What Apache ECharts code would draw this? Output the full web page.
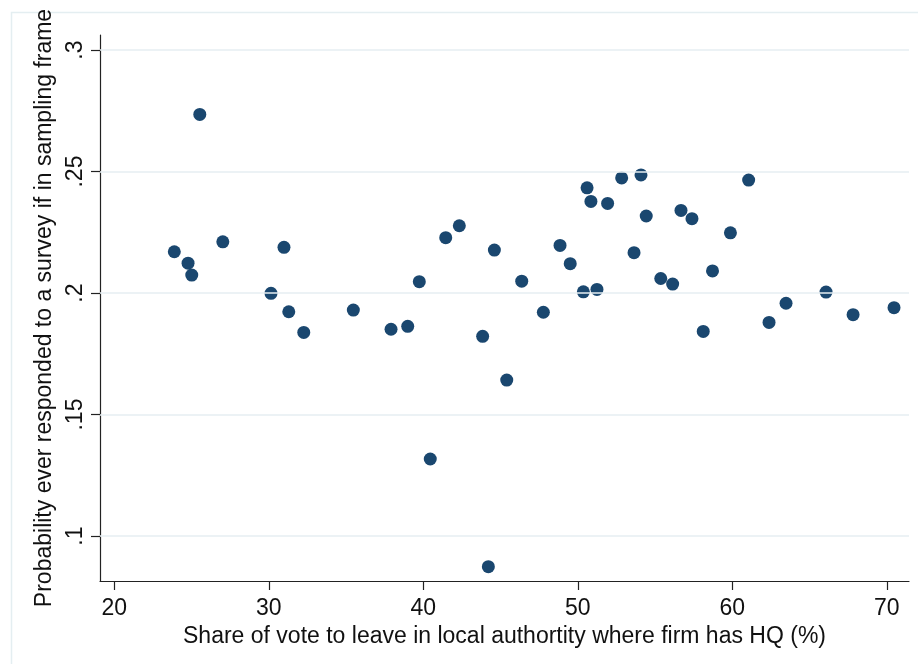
<!DOCTYPE html>
<html>
<head>
<meta charset="utf-8">
<script src="https://cdn.jsdelivr.net/npm/echarts@6/dist/echarts.min.js"></script>
<style>
  html, body { margin: 0; padding: 0; background: #ffffff; }
  #chart { width: 918px; height: 664px; }
</style>
</head>
<body>
<div id="chart"></div>
<script>
// Leave vote share in the HQ local authority (%) for each point
const leaveShare = [
  25.53, 23.88, 24.77, 25.01, 27.02, 30.14, 30.98, 31.29, 32.26, 35.47,
  37.91, 38.99, 39.74, 40.45, 41.45, 42.33, 43.84, 44.21, 44.60, 45.40,
  46.37, 47.77, 48.85, 49.51, 50.36, 50.60, 50.85, 51.24, 51.93, 52.84,
  54.09, 53.64, 54.43, 55.37, 56.14, 56.68, 57.39, 58.12, 58.72, 59.88,
  61.06, 62.38, 63.48, 66.07, 67.82, 70.47
];
// Probability of ever responding to a survey, same order
const responseProb = [
  0.2735, 0.2170, 0.2123, 0.2074, 0.2211, 0.1999, 0.2188, 0.1923, 0.1838, 0.1930,
  0.1851, 0.1863, 0.2047, 0.1317, 0.2228, 0.2277, 0.1822, 0.0874, 0.2177, 0.1642,
  0.2049, 0.1921, 0.2196, 0.2121, 0.2005, 0.2433, 0.2377, 0.2015, 0.2369, 0.2474,
  0.2486, 0.2166, 0.2317, 0.2060, 0.2037, 0.2340, 0.2306, 0.1842, 0.2091, 0.2248,
  0.2465, 0.1879, 0.1958, 0.2004, 0.1911, 0.1940
];
// Tick positions
const xTicks = [20, 30, 40, 50, 60, 70];
const yTicks = [0.1, 0.15, 0.2, 0.25, 0.3];

const xTitle = 'Share of vote to leave in local authortity where firm has HQ (%)';
const yTitle = 'Probability ever responded to a survey if in sampling frame';

const points = leaveShare.map((v, i) => [v, responseProb[i]]);
const FONT = '"Liberation Sans", Arial, sans-serif';
const FONT_SIZE = 23;
const TEXT_COLOR = '#111111';
const AXIS_COLOR = '#222222';

const chart = echarts.init(document.getElementById('chart'), null, { renderer: 'canvas' });
chart.setOption({
  animation: false,
  backgroundColor: '#ffffff',
  graphic: [{
    type: 'rect',
    silent: true,
    shape: { x: 11.5, y: 12.5, width: 930, height: 680 },
    style: { fill: 'none', stroke: '#e4eef1', lineWidth: 1.5 }
  }],
  grid: { left: 100, right: 9, top: 35, bottom: 83, containLabel: false },
  xAxis: {
    type: 'value',
    min: 19.07,
    max: 71.44,
    name: xTitle,
    nameLocation: 'middle',
    nameGap: 36,
    nameTextStyle: { fontFamily: FONT, fontSize: FONT_SIZE, color: TEXT_COLOR },
    axisLine: { show: true, onZero: false, lineStyle: { color: AXIS_COLOR, width: 1.2 } },
    axisTick: { show: true, length: 9, customValues: xTicks, lineStyle: { color: AXIS_COLOR, width: 1.2 } },
    axisLabel: {
      customValues: xTicks,
      margin: 16,
      fontFamily: FONT, fontSize: FONT_SIZE, color: TEXT_COLOR
    },
    splitLine: { show: false }
  },
  yAxis: {
    type: 'value',
    min: 0.0815,
    max: 0.3062,
    name: yTitle,
    nameLocation: 'middle',
    nameRotate: 90,
    nameGap: 33,
    nameTextStyle: { fontFamily: FONT, fontSize: FONT_SIZE, color: TEXT_COLOR },
    axisLine: { show: true, onZero: false, lineStyle: { color: AXIS_COLOR, width: 1.2 } },
    axisTick: { show: true, length: 9, customValues: yTicks, lineStyle: { color: AXIS_COLOR, width: 1.2 } },
    axisLabel: {
      customValues: yTicks,
      rotate: 90,
      margin: 13,
      fontFamily: FONT, fontSize: FONT_SIZE, color: TEXT_COLOR,
      formatter: v => String(+v.toFixed(2)).replace(/^0\./, '.')
    },
    splitLine: { show: false }
  },
  series: [{
    type: 'scatter',
    data: points,
    symbol: 'circle',
    symbolSize: 13,
    itemStyle: { color: '#1a476f', opacity: 1 },
    markLine: {
      silent: true,
      symbol: ['none', 'none'],
      label: { show: false },
      lineStyle: { color: '#e6eef2', width: 1.5, type: 'solid' },
      data: yTicks.map(t => ({ yAxis: t }))
    },
    z: 3
  }]
});
</script>
</body>
</html>
